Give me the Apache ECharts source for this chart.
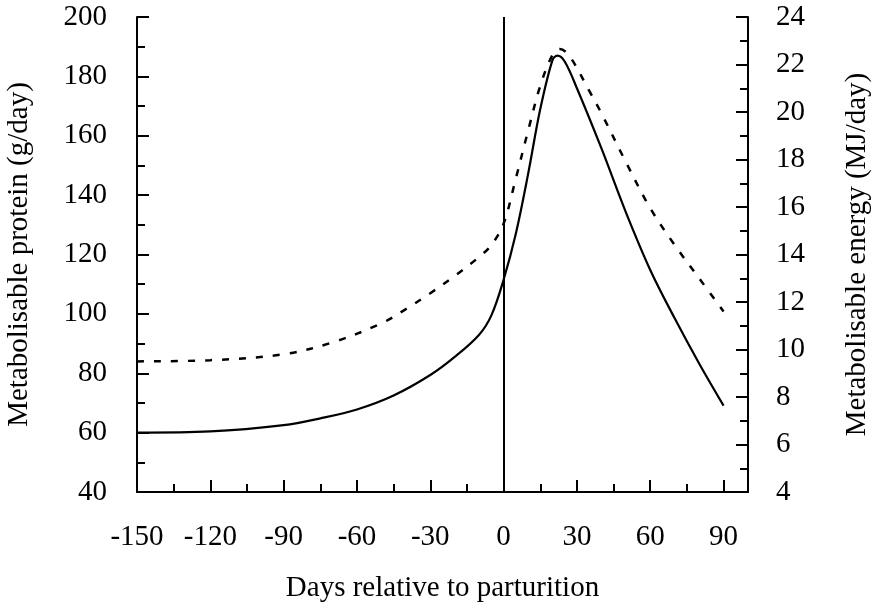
<!DOCTYPE html>
<html>
<head>
<meta charset="utf-8">
<script src="https://cdn.jsdelivr.net/npm/echarts@6/dist/echarts.min.js"></script>
<style>
  html,body{margin:0;padding:0;background:#fff;}
  #chart{width:875px;height:608px;}
</style>
</head>
<body>
<div id="chart"></div>
<script>
// days relative to parturition
var proteinDays = [-150,-120,-90,-75,-60,-45,-30,-20,-10,-5,0,5,10,15,20,22,25,30,40,50,60,70,80,90];
// metabolisable protein, g/day (solid, left axis)
var proteinValues = [60,60.4,62.5,64.8,67.8,72.5,79.4,85.5,93,99.5,111.5,127,147,169,185.5,187,185,176,155.8,134.3,114.8,98.5,83.3,69.1];

var energyDays = [-150,-120,-90,-70,-50,-40,-30,-20,-10,-5,0,5,10,15,20,23,27,35,40,50,60,70,80,90];
// metabolisable energy, MJ/day (dashed, right axis)
var energyValues = [9.5,9.55,9.8,10.3,11.1,11.7,12.37,13.1,13.9,14.4,15.3,17.2,19.2,21.1,22.4,22.65,22.35,20.9,19.95,17.9,15.95,14.4,13.0,11.6];

var fontFam = '"Liberation Serif", "Times New Roman", serif';
var fs = 29;

function pairs(xs, ys){
  var out = [];
  for(var i=0;i<xs.length;i++){ out.push([xs[i], ys[i]]); }
  return out;
}

var chart = echarts.init(document.getElementById('chart'));
chart.setOption({
  backgroundColor:'#fff',
  animation:false,
  grid:{left:137,right:127,top:17,bottom:116,outerBoundsMode:'none',containLabel:false},
  xAxis:[
    {
      type:'value', min:-150, max:100, interval:30,
      name:'Days relative to parturition', nameLocation:'middle', nameGap:82,
      nameTextStyle:{fontFamily:fontFam,fontSize:fs,color:'#000'},
      axisLine:{show:true,onZero:false,lineStyle:{color:'#000',width:2}},
      axisTick:{show:true,inside:true,length:12,lineStyle:{color:'#000',width:2}},
      axisLabel:{fontFamily:fontFam,fontSize:fs,color:'#000',margin:31,showMaxLabel:false,
        formatter:function(v){ return v>90 ? '' : String(v); }},
      splitLine:{show:false}
    },
    {
      // minor ticks every 15 days
      type:'value', min:-150, max:100, interval:15, position:'bottom',
      axisLine:{show:false,onZero:false},
      axisTick:{show:true,inside:true,length:8,lineStyle:{color:'#000',width:2}},
      axisLabel:{show:false},
      splitLine:{show:false}
    }
  ],
  yAxis:[
    {
      type:'value', min:40, max:200, interval:20, position:'left',
      name:'Metabolisable protein (g/day)', nameLocation:'middle', nameGap:103, nameRotate:90,
      nameTextStyle:{fontFamily:fontFam,fontSize:fs,color:'#000'},
      axisLine:{show:true,onZero:false,lineStyle:{color:'#000',width:2}},
      axisTick:{show:true,inside:true,length:12,lineStyle:{color:'#000',width:2}},
      minorTick:{show:true,splitNumber:2,length:8,lineStyle:{color:'#000',width:2}},
      axisLabel:{fontFamily:fontFam,fontSize:fs,color:'#000',margin:30},
      splitLine:{show:false}
    },
    {
      type:'value', min:4, max:24, interval:2, position:'right',
      name:'Metabolisable energy (MJ/day)', nameLocation:'middle', nameGap:95, nameRotate:90,
      nameTextStyle:{fontFamily:fontFam,fontSize:fs,color:'#000'},
      axisLine:{show:true,onZero:false,lineStyle:{color:'#000',width:2}},
      axisTick:{show:true,inside:true,length:12,lineStyle:{color:'#000',width:2}},
      minorTick:{show:true,splitNumber:2,length:8,lineStyle:{color:'#000',width:2}},
      axisLabel:{fontFamily:fontFam,fontSize:fs,color:'#000',margin:28},
      splitLine:{show:false}
    }
  ],
  series:[
    {
      name:'Metabolisable protein', type:'line', xAxisIndex:0, yAxisIndex:0,
      data:pairs(proteinDays, proteinValues),
      smooth:0.35, showSymbol:false, symbol:'none',
      lineStyle:{color:'#000',width:2.2},
      markLine:{
        silent:true, symbol:['none','none'], label:{show:false},
        lineStyle:{color:'#000',width:2,type:'solid'},
        data:[{xAxis:0}]
      }
    },
    {
      name:'Metabolisable energy', type:'line', xAxisIndex:0, yAxisIndex:1,
      data:pairs(energyDays, energyValues),
      smooth:0.35, showSymbol:false, symbol:'none',
      lineStyle:{color:'#000',width:2.5,type:[7,10]}
    }
  ]
});
</script>
</body>
</html>
